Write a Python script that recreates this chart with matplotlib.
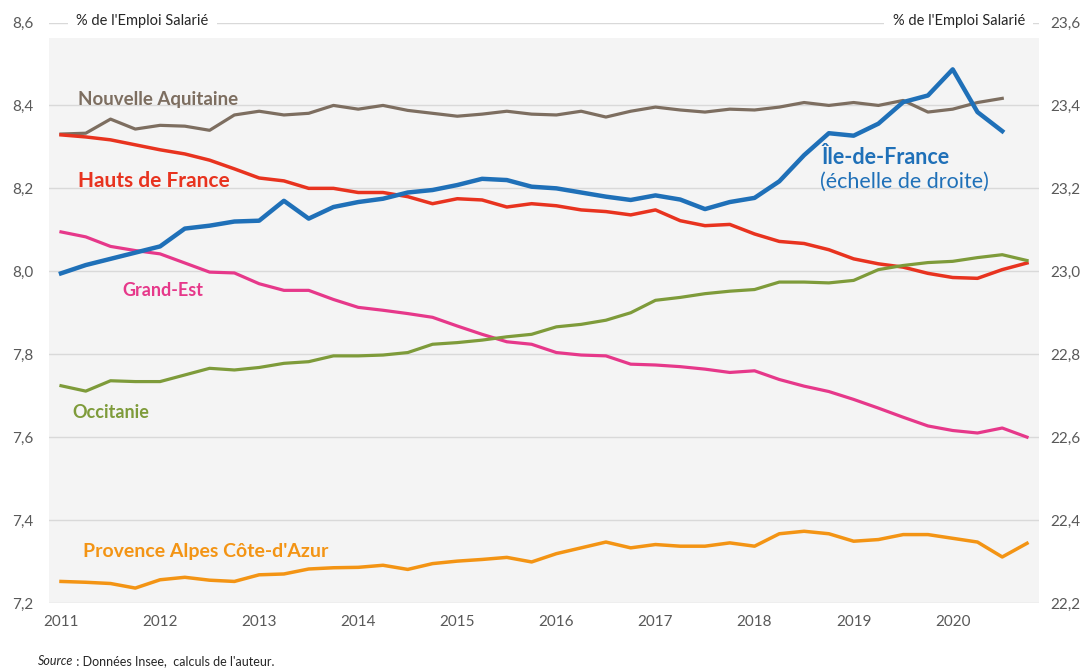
import matplotlib
matplotlib.use("Agg")
import matplotlib.pyplot as plt
from matplotlib.patches import Rectangle
from matplotlib.ticker import FuncFormatter

plt.rcParams['font.family'] = ['Lato', 'DejaVu Sans']

# Quarterly data, 2011Q1 ... 2020Q4 (% of salaried employment)
years = ["2011", "2012", "2013", "2014", "2015", "2016", "2017", "2018", "2019", "2020"]

nouvelle_aquitaine = [8.331, 8.333, 8.367, 8.343, 8.352, 8.350, 8.340, 8.377, 8.386, 8.377,
                      8.381, 8.400, 8.391, 8.400, 8.388, 8.381, 8.374, 8.379, 8.386, 8.379,
                      8.377, 8.386, 8.372, 8.386, 8.396, 8.389, 8.384, 8.391, 8.389, 8.396,
                      8.407, 8.400, 8.407, 8.400, 8.412, 8.384, 8.391, 8.407, 8.417]

hauts_de_france = [8.329, 8.324, 8.317, 8.305, 8.293, 8.283, 8.268, 8.247, 8.225, 8.218,
                   8.200, 8.200, 8.190, 8.190, 8.180, 8.163, 8.175, 8.172, 8.155, 8.163,
                   8.158, 8.148, 8.144, 8.136, 8.148, 8.122, 8.110, 8.113, 8.090, 8.072,
                   8.067, 8.052, 8.030, 8.018, 8.010, 7.995, 7.985, 7.983, 8.004, 8.020]

grand_est = [8.095, 8.083, 8.060, 8.050, 8.042, 8.020, 7.998, 7.996, 7.970, 7.954,
             7.954, 7.932, 7.913, 7.906, 7.898, 7.889, 7.868, 7.848, 7.830, 7.824,
             7.804, 7.798, 7.796, 7.776, 7.774, 7.770, 7.764, 7.756, 7.760, 7.739,
             7.723, 7.710, 7.691, 7.670, 7.648, 7.627, 7.616, 7.610, 7.622, 7.600]

occitanie = [7.724, 7.711, 7.736, 7.734, 7.734, 7.750, 7.766, 7.762, 7.768, 7.778,
             7.782, 7.796, 7.796, 7.798, 7.804, 7.824, 7.828, 7.834, 7.842, 7.848,
             7.866, 7.872, 7.882, 7.900, 7.930, 7.937, 7.946, 7.952, 7.956, 7.974,
             7.974, 7.972, 7.978, 8.004, 8.014, 8.021, 8.024, 8.033, 8.040, 8.026]

paca = [7.252, 7.250, 7.247, 7.236, 7.256, 7.262, 7.255, 7.252, 7.268, 7.270,
        7.282, 7.285, 7.286, 7.291, 7.281, 7.295, 7.301, 7.305, 7.310, 7.299,
        7.319, 7.333, 7.347, 7.333, 7.341, 7.337, 7.337, 7.345, 7.337, 7.367,
        7.373, 7.367, 7.349, 7.353, 7.365, 7.365, 7.356, 7.347, 7.311, 7.344]

ile_de_france = [22.995, 23.015, 23.030, 23.045, 23.060, 23.103, 23.110, 23.120, 23.122, 23.170,
                 23.127, 23.155, 23.167, 23.175, 23.190, 23.196, 23.208, 23.223, 23.220, 23.204,
                 23.200, 23.190, 23.180, 23.172, 23.183, 23.173, 23.150, 23.167, 23.177, 23.217,
                 23.280, 23.333, 23.327, 23.356, 23.408, 23.424, 23.487, 23.384, 23.338]

C_BROWN = "#7d6e60"
C_RED = "#e8331f"
C_PINK = "#e6388a"
C_GREEN = "#7e9b3a"
C_ORANGE = "#f39414"
C_BLUE = "#1f70b8"
C_TICK = "#595959"
C_GRID = "#d9d9d9"

W, H = 1088, 671
fig = plt.figure(figsize=(W / 100, H / 100), dpi=100)
ax = fig.add_axes([48.6 / W, 68 / H, 990.8 / W, 580.5 / H])
ax2 = ax.twinx()

ax.set_facecolor("white")
ax.add_patch(Rectangle((0, 0), 1, 0.973, transform=ax.transAxes,
                       facecolor="#f4f4f4", edgecolor="none", zorder=0))

def xs(n):
    return list(range(n))

ax.plot(xs(len(nouvelle_aquitaine)), nouvelle_aquitaine, color=C_BROWN, lw=2.3, zorder=3)
ax.plot(xs(len(hauts_de_france)), hauts_de_france, color=C_RED, lw=2.5, zorder=3)
ax.plot(xs(len(grand_est)), grand_est, color=C_PINK, lw=2.3, zorder=3)
ax.plot(xs(len(occitanie)), occitanie, color=C_GREEN, lw=2.3, zorder=3)
ax.plot(xs(len(paca)), paca, color=C_ORANGE, lw=2.5, zorder=3)
ax2.plot(xs(len(ile_de_france)), ile_de_france, color=C_BLUE, lw=3.2, zorder=3)

ax.set_xlim(-0.5, 39.5)
ax.set_ylim(7.2, 8.6)
ax2.set_ylim(22.2, 23.6)

lticks = [7.2, 7.4, 7.6, 7.8, 8.0, 8.2, 8.4, 8.6]
rticks = [22.2, 22.4, 22.6, 22.8, 23.0, 23.2, 23.4, 23.6]
ax.set_yticks(lticks)
ax2.set_yticks(rticks)
fmt = FuncFormatter(lambda v, p: f"{v:.1f}".replace(".", ","))
ax.yaxis.set_major_formatter(fmt)
ax2.yaxis.set_major_formatter(fmt)
ax.set_xticks([4 * k for k in range(len(years))])
ax.set_xticklabels(years)

for a in (ax, ax2):
    for s in a.spines.values():
        s.set_visible(False)
ax.tick_params(axis="both", length=0, labelsize=11, labelcolor=C_TICK)
ax.tick_params(axis="y", pad=11)
ax.tick_params(axis="x", pad=9)
ax2.tick_params(axis="y", length=0, labelsize=11, labelcolor=C_TICK, pad=8)

ax.yaxis.grid(True, color=C_GRID, lw=1.0, zorder=1)
ax.set_axisbelow(True)
ax2.set_zorder(ax.get_zorder() + 1)
ax2.patch.set_visible(False)

def ftext(px, py, s, **kw):
    fig.text(px / W, 1 - py / H, s, **kw)

box = dict(facecolor="white", edgecolor="none", pad=6)
ftext(76, 21, "% de l'Emploi Salarié", fontsize=10.5, color="#262626", va="center", ha="left", bbox=box, zorder=10)
ftext(1025, 21, "% de l'Emploi Salarié", fontsize=10.5, color="#262626", va="center", ha="right", bbox=box, zorder=10)

ftext(78, 100, "Nouvelle Aquitaine", fontsize=13.5, fontweight="bold", color=C_BROWN, va="center")
ftext(78, 181, "Hauts de France", fontsize=15, fontweight="bold", color=C_RED, va="center")
ftext(122, 291, "Grand-Est", fontsize=13, fontweight="bold", color=C_PINK, va="center")
ftext(72, 413, "Occitanie", fontsize=13, fontweight="bold", color=C_GREEN, va="center")
ftext(83, 551, "Provence Alpes Côte-d'Azur", fontsize=14, fontweight="bold", color=C_ORANGE, va="center")
ftext(822, 158, "Île-de-France", fontsize=15.5, fontweight="bold", color=C_BLUE, va="center")
ftext(820, 182, "(échelle de droite)", fontsize=15.5, color=C_BLUE, va="center")

ftext(38, 661, "Source", fontsize=9, style="italic", color="#262626", va="center")
ftext(73, 661, " : Données Insee,  calculs de l'auteur.", fontsize=9, color="#262626", va="center")

fig.savefig("out.png", dpi=100)
